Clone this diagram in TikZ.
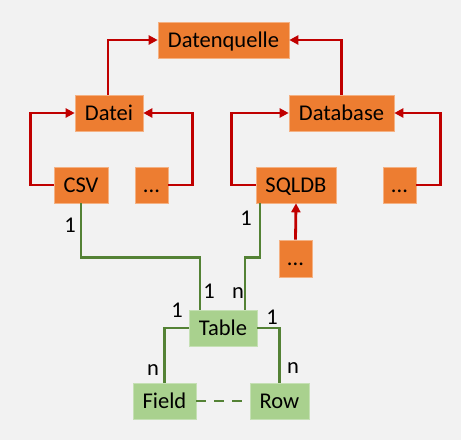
\documentclass[tikz,border=0pt]{standalone}
\usepackage{fontspec}
\setmainfont{Carlito}
\usetikzlibrary{arrows.meta}
\definecolor{bgray}{HTML}{F2F2F2}
\definecolor{srcorange}{HTML}{ED7D31}
\definecolor{srcedge}{HTML}{F4B183}
\definecolor{arrred}{HTML}{C00000}
\definecolor{tblgreen}{HTML}{A9D18E}
\definecolor{tbledge}{HTML}{C5E0B4}
\definecolor{relgreen}{HTML}{548235}
\begin{document}
\begin{tikzpicture}[x=1pt,y=-1pt,%
every node/.style={inner sep=0pt, font=\fontsize{22.5}{26}\selectfont},
box/.style={rectangle, line width=0.6pt, minimum height=36pt,
text height=16pt, text depth=2pt, align=center},
src/.style={box, fill=srcorange, draw=srcedge},
ent/.style={box, fill=tblgreen, draw=tbledge},
card/.style={anchor=base},
arr/.style={arrred, line width=2.8pt, -{Triangle[length=9pt,width=9pt]}},
rel/.style={relgreen, line width=2.8pt}]
\fill[bgray] (0,0) rectangle (461,440);
\useasboundingbox (0,0) rectangle (461,440);
\node (quelle) at (223.5,40) [src, minimum width=131pt] {Datenquelle};
\node (datei) at (109,113) [src, minimum width=68pt] {Datei};
\node (database) at (341.5,113) [src, minimum width=105pt] {Database};
\node (csv) at (81,185) [src, minimum width=54pt] {CSV};
\node (dateiMore) at (151.5,185) [src, minimum width=33pt] {...};
\node (sqldb) at (296,185) [src, minimum width=80pt] {SQLDB};
\node (dbMore) at (399.5,185) [src, minimum width=33pt] {...};
\node (sqlMore) at (295.5,258.5) [src, minimum width=33pt, minimum height=37pt] {...};
\node (tbl) at (223,328) [ent, minimum width=68pt] {Table};
\node (field) at (164.5,401) [ent, minimum width=63pt] {Field};
\node (row) at (279.5,401) [ent, minimum width=59pt] {Row};
% Kardinalitaeten
\node (cCsv) at (70,232) [card] {1};
\node (cSql) at (246,225) [card] {1};
\node (cTblCsv) at (209,298) [card] {1};
\node (cTblSql) at (238,298) [card] {n};
\node (cTblField) at (177,317) [card] {1};
\node (cTblRow) at (272,324) [card] {1};
\node (cField) at (153,375) [card] {n};
\node (cRow) at (293,373) [card] {n};
\draw[arr] ([xshift=-1pt]datei.north) |- (quelle.west);
\draw[arr] (database.north) |- (quelle.east);
\draw[arr] (csv.west) -- ++(-23,0) |- (datei.west);
\draw[arr] (dateiMore.east) -- ++(24,0) |- (datei.east);
\draw[arr] (sqldb.west) -- ++(-24,0) |- (database.west);
\draw[arr] (dbMore.east) -- ++(24,0) |- (database.east);
\draw[arr] (sqlMore.north) -- (sqldb.south);
\draw[rel] (csv.south) -- ++(0,54) -| ([xshift=-23pt]tbl.north);
\draw[rel] ([xshift=-36pt]sqldb.south) -- ++(0,54) -| ([xshift=22pt]tbl.north);
\draw[rel] (tbl.west) -| (field.north);
\draw[rel] (tbl.east) -| (row.north);
\draw[rel, dash pattern=on 10pt off 8pt] (field.east) -- (row.west);
\end{tikzpicture}
\end{document}
